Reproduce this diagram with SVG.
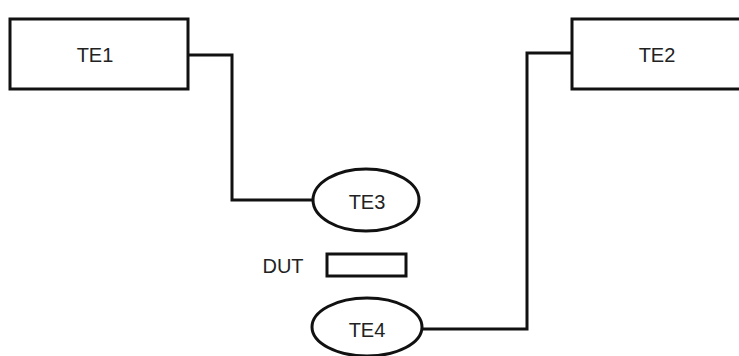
<svg xmlns="http://www.w3.org/2000/svg" width="739" height="356" viewBox="0 0 739 356">
<style>
.box{fill:#fff;stroke:#111;stroke-width:3}
.line{fill:none;stroke:#111;stroke-width:3}
text{font-family:"Liberation Sans",Arial,sans-serif;font-size:20px;fill:#222}
</style>
<rect width="739" height="356" fill="#fff"/>
<g id="connectors">
<polyline class="line" points="188,55 232,55 232,200 313,200"/>
<polyline class="line" points="422,329 527,329 527,53 572,53"/>
</g>
<g id="TE1">
<rect class="box" x="10" y="19" width="178" height="70"/>
<text x="95" y="62" text-anchor="middle">TE1</text>
</g>
<g id="TE2">
<rect class="box" x="572" y="19" width="180" height="70"/>
<text x="657" y="62" text-anchor="middle">TE2</text>
</g>
<g id="TE3">
<ellipse class="box" cx="366" cy="200" rx="53" ry="31"/>
<text x="367" y="209" text-anchor="middle">TE3</text>
</g>
<g id="DUT">
<rect class="box" x="327" y="254" width="79" height="22"/>
<text x="283" y="273" text-anchor="middle">DUT</text>
</g>
<g id="TE4">
<ellipse class="box" cx="367" cy="327" rx="55" ry="29"/>
<text x="367" y="337" text-anchor="middle">TE4</text>
</g>
</svg>
